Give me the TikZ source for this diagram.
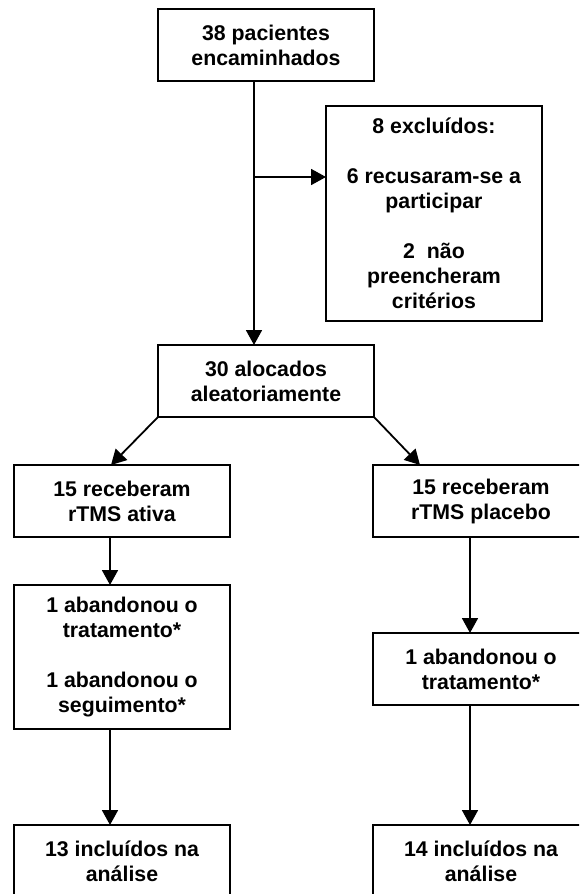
\documentclass[tikz,border=0pt]{standalone}
\usepackage{fontspec}
\setmainfont{Liberation Sans}
\usetikzlibrary{arrows.meta}
\tikzset{
  box/.style={draw, line width=1.8pt, minimum width=216pt, inner sep=0pt, outer sep=0pt,
    align=center, font=\fontsize{21.3}{25}\selectfont\bfseries},
  arr/.style={line width=1.8pt, -{Triangle[length=15pt,width=16pt]}}
}
\begin{document}
\begin{tikzpicture}[x=1pt,y=1pt]
\useasboundingbox (0,0) rectangle (579,-894);
\clip (0,0) rectangle (579,-894);
\node[box, minimum height=72pt] (top) at (266,-45) {38 pacientes\\encaminhados};
\node[box, minimum height=215pt] (excl) at (434,-213.5) {8 excluídos:\\[25pt]6 recusaram-se a\\participar\\[25pt]2\ \ não\\preencheram\\critérios};
\node[box, minimum height=72pt] (alloc) at (266,-381) {30 alocados\\aleatoriamente};
\node[box, minimum height=72pt] (la) at (122,-501) {15 receberam\\rTMS ativa};
\node[box, minimum height=72pt] (ra) at (481,-501) {15 receberam\\rTMS placebo};
\node[box, minimum height=144pt] (lb) at (122,-657) {1 abandonou o\\tratamento*\\[25pt]1 abandonou o\\seguimento*};
\node[box, minimum height=72pt] (rb) at (481,-669) {1 abandonou o\\tratamento*};
\node[box, minimum height=72pt] (lc) at (122,-861) {13 incluídos na\\análise};
\node[box, minimum height=72pt] (rc) at (481,-861) {14 incluídos na\\análise};
\coordinate (br) at (254,-177);
\draw[arr] ([xshift=-12pt]top.south) -- ([xshift=-12pt]alloc.north);
\draw[arr] (br) -- (excl.west |- br);
\draw[arr] (alloc.south west) -- ([xshift=-11pt]la.north);
\draw[arr] (alloc.south east) -- ([xshift=-61pt]ra.north);
\draw[arr] ([xshift=-12pt]la.south) -- ([xshift=-12pt]lb.north);
\draw[arr] ([xshift=-12pt]lb.south) -- ([xshift=-12pt]lc.north);
\draw[arr] ([xshift=-11pt]ra.south) -- ([xshift=-11pt]rb.north);
\draw[arr] ([xshift=-11pt]rb.south) -- ([xshift=-11pt]rc.north);
\end{tikzpicture}
\end{document}
